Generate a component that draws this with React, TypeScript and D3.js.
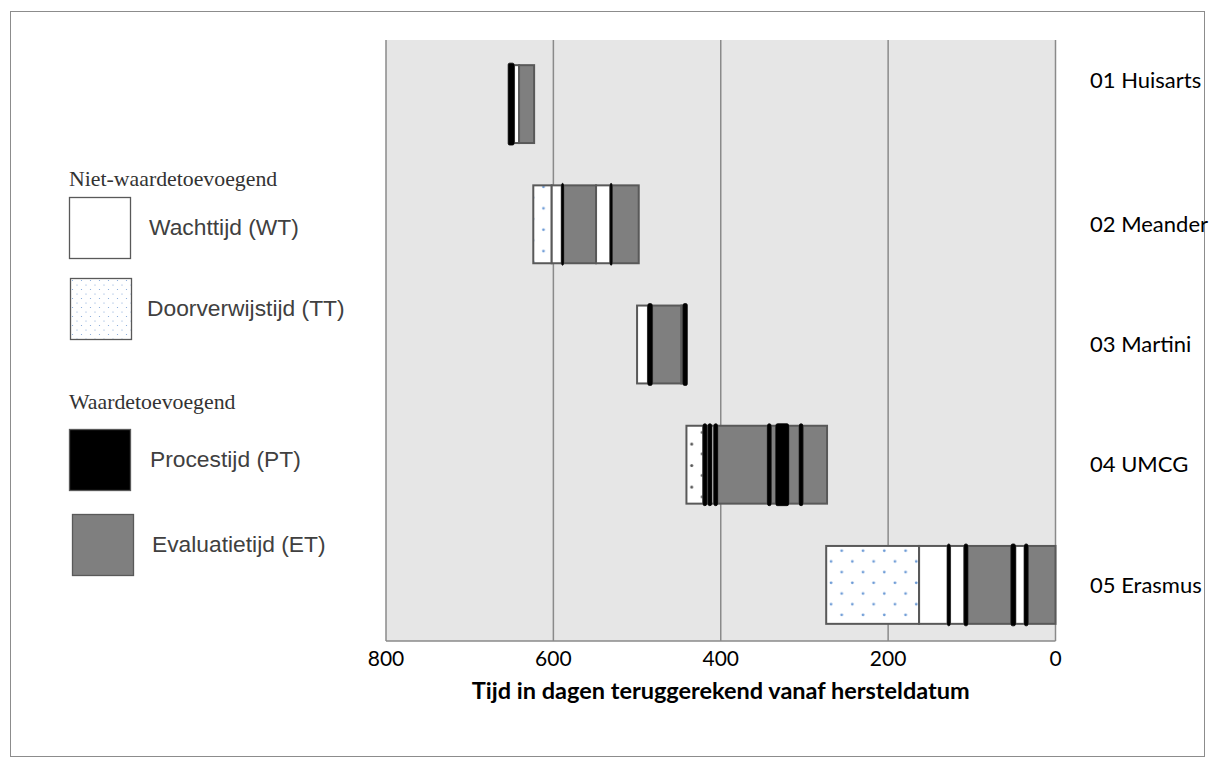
import React from "react";
import * as d3 from "d3";

// ---------- data ----------
const categories = ["01 Huisarts", "02 Meander", "03 Martini", "04 UMCG", "05 Erasmus"];
const xTicks = [800, 600, 400, 200, 0];
const xTitle = "Tijd in dagen teruggerekend vanaf hersteldatum";

// segments: [type, fromDay, toDay]  (days counted back from recovery date)
const huisarts: [string, number, number][] = [
  ["PT", 654, 647], ["WT", 647, 641], ["ET", 641, 623],
];
const meander: [string, number, number][] = [
  ["TT", 624, 602], ["WT", 602, 590], ["PT", 590, 588], ["ET", 588, 549],
  ["WT", 549, 532], ["PT", 532, 530], ["ET", 530, 498],
];
const martini: [string, number, number][] = [
  ["WT", 500, 487], ["PT", 487, 482], ["ET", 482, 447], ["WT", 447, 445], ["PT", 445, 440],
];
const umcg: [string, number, number][] = [
  ["TT", 441, 421], ["PT", 421, 417], ["WT", 417, 415], ["PT", 415, 411], ["WT", 411, 408],
  ["PT", 408, 404], ["ET", 404, 344], ["PT", 344, 340], ["ET", 340, 334], ["PT", 334, 319],
  ["ET", 319, 306], ["PT", 306, 302], ["ET", 302, 273],
];
const erasmus: [string, number, number][] = [
  ["TT", 274, 163], ["WT", 163, 129], ["PT", 129, 126], ["WT", 126, 109], ["PT", 109, 105],
  ["ET", 105, 53], ["PT", 53, 48], ["WT", 48, 37], ["PT", 37, 33], ["ET", 33, 0],
];
const rows = [huisarts, meander, martini, umcg, erasmus];

const legendGroups = ["Niet-waardetoevoegend", "Waardetoevoegend"];
const legendItems = [
  { type: "WT", label: "Wachttijd (WT)" },
  { type: "TT", label: "Doorverwijstijd (TT)" },
  { type: "PT", label: "Procestijd (PT)" },
  { type: "ET", label: "Evaluatietijd (ET)" },
];

// ---------- layout ----------
const W = 1213, H = 765;
const plot = { left: 386, right: 1055.5, top: 40, bottom: 641 };

export default function App() {
  const x = d3.scaleLinear().domain([800, 0]).range([plot.left, plot.right]);
  const y = d3.scaleBand<string>().domain(categories).range([44, 645]).paddingInner(0.352).paddingOuter(0.176);
  const bh = y.bandwidth();

  const segFill = (t: string, ri: number) =>
    t === "ET" ? "#7f7f7f" : t === "PT" ? "#000" : t === "TT" ? (ri === 3 ? "url(#dotsDark)" : "url(#dotsBlue)") : "#fff";

  const sans = "'Liberation Sans', Arial, sans-serif";
  const cal = "Lato, 'Open Sans', sans-serif";
  const serif = "'Liberation Serif', 'Times New Roman', serif";

  return (
    <svg width={W} height={H} style={{ position: "absolute", left: 0, top: 0 }}>
      <defs>
        <pattern id="dotsBlue" width={21.3} height={21.4} patternUnits="userSpaceOnUse" x={826} y={546}>
          <rect width={21.3} height={21.4} fill="#fff" />
          <circle cx={15.7} cy={4.7} r={1.4} fill="#6d9bd6" />
          <circle cx={5.05} cy={15.4} r={1.4} fill="#6d9bd6" />
        </pattern>
        <pattern id="dotsDark" width={21.3} height={21.5} patternUnits="userSpaceOnUse" x={686} y={426}>
          <rect width={21.3} height={21.5} fill="#fff" />
          <circle cx={5.7} cy={18} r={1.5} fill="#555" />
          <circle cx={16.3} cy={6.3} r={1.5} fill="#555" />
        </pattern>
        <pattern id="dotsSmall" width={9} height={9} patternUnits="userSpaceOnUse" x={70} y={278}>
          <rect width={9} height={9} fill="#fff" />
          <circle cx={2.5} cy={2.5} r={0.6} fill="#7da3d6" />
          <circle cx={7} cy={7} r={0.6} fill="#7da3d6" />
        </pattern>
      </defs>

      {/* outer border */}
      <rect x={10.5} y={11.5} width={1194} height={745} fill="#fff" stroke="#8c8c8c" strokeWidth={1} />

      {/* plot area */}
      <rect x={plot.left} y={plot.top} width={plot.right - plot.left} height={plot.bottom - plot.top} fill="#e6e6e6" />
      {xTicks.map((t) => (
        <line key={"g" + t} x1={x(t)} x2={x(t)} y1={plot.top} y2={plot.bottom} stroke="#8a8a8a" strokeWidth={1.5} />
      ))}
      <line x1={plot.left} x2={plot.right} y1={plot.bottom} y2={plot.bottom} stroke="#8a8a8a" strokeWidth={1.5} />

      {/* bars */}
      {rows.map((segs, ri) => {
        const top = y(categories[ri])!;
        return (
          <g key={"r" + ri}>
            {segs.filter((s) => s[0] !== "PT").map((s, i) => (
              <rect key={i} x={x(s[1])} y={top} width={x(s[2]) - x(s[1])} height={bh}
                fill={segFill(s[0], ri)} stroke="#595959" strokeWidth={2} />
            ))}
            {segs.filter((s) => s[0] === "PT").map((s, i) => (
              <rect key={"p" + i} x={x(s[1])} y={top - 2} width={x(s[2]) - x(s[1])} height={bh + 4}
                rx={1.5} fill="#000" stroke="#000" strokeWidth={0.8} />
            ))}
          </g>
        );
      })}

      {/* category labels */}
      {categories.map((c, i) => (
        <text key={c} x={1090} y={y(c)! + bh / 2 + (i === 0 ? -24 : 0)} dy="0.35em" fontFamily={cal} fontSize={22} fill="#000">{c}</text>
      ))}

      {/* x axis */}
      {xTicks.map((t) => (
        <text key={"t" + t} x={x(t)} y={659} dy="0.35em" textAnchor="middle" fontFamily={cal} fontSize={21} fill="#000">{t}</text>
      ))}
      <text x={(plot.left + plot.right) / 2} y={691} dy="0.35em" textAnchor="middle" fontFamily={cal} fontWeight="bold" fontSize={23.5} fill="#000">{xTitle}</text>

      {/* legend */}
      <text x={69} y={186} fontFamily={serif} fontSize={21.8} fill="#333">{legendGroups[0]}</text>
      <text x={69} y={409} fontFamily={serif} fontSize={21.8} fill="#333">{legendGroups[1]}</text>
      {legendItems.map((it, i) => {
        const boxY = [197, 278, 429, 514][i];
        const boxX = [69, 70, 69, 72][i];
        const textX = [149, 147, 150, 152][i];
        const fill = it.type === "ET" ? "#7f7f7f" : it.type === "PT" ? "#000" : it.type === "TT" ? "url(#dotsSmall)" : "#fff";
        return (
          <g key={it.type}>
            <rect x={boxX + 0.5} y={boxY + 0.5} width={61} height={61} fill={fill} stroke="#595959" strokeWidth={1.3} />
            <text x={textX} y={boxY + 30} dy="0.35em" fontFamily={sans} fontSize={22.8} fill="#404040">{it.label}</text>
          </g>
        );
      })}
    </svg>
  );
}
